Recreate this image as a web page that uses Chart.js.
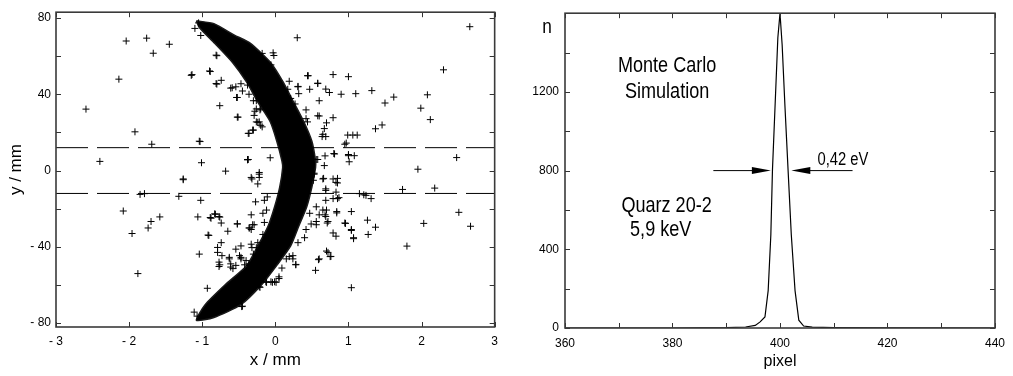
<!DOCTYPE html>
<html>
<head>
<meta charset="utf-8">
<script src="https://cdn.jsdelivr.net/npm/chart.js@4.4.0/dist/chart.umd.min.js"></script>
<style>
  body { margin: 0; background: #fff; }
  #left { position: absolute; left: 0; top: 0; width: 505px; height: 376px; }
  #right { position: absolute; left: 505px; top: 0; width: 508px; height: 376px; }
</style>
</head>
<body>
<div id="left"><canvas id="spotChart"></canvas></div>
<div id="right"><canvas id="peakChart"></canvas></div>
<script>
// ---- left panel: spot on the detector (x / mm, y / mm) ----
// dense band, outer edge top->bottom then inner edge bottom->top
const crescentOutline = [
  [-1.08, 78.5], [-0.84, 77.0], [-0.56, 71.0], [-0.34, 66.7], [-0.06, 56.4], [0.11, 46.2],
  [0.25, 35.9], [0.39, 25.6], [0.50, 15.4], [0.55, 5.1], [0.55, 1.5], [0.50, -8.7],
  [0.43, -19.0], [0.32, -29.2], [0.21, -39.5], [0.02, -49.7], [-0.19, -60.0], [-0.47, -70.3],
  [-0.84, -77.0], [-1.08, -78.5],
  [-0.96, -70.3], [-0.69, -60.0], [-0.39, -49.7], [-0.24, -39.5], [-0.10, -29.2], [-0.01, -19.0],
  [0.06, -8.7], [0.10, 1.5], [0.09, 5.1], [0.02, 15.4], [-0.07, 25.6], [-0.24, 35.9],
  [-0.39, 46.2], [-0.58, 56.4], [-0.83, 66.7], [-1.04, 75.0], [-1.08, 78.5]
];

const strayPoints = [
  [-2.59, 32.2], [-2.04, 67.9], [-2.14, 47.9], [-1.76, 69.4], [-1.67, 61.5], [-1.45, 66.2],
  [-1.92, 20.3], [-1.69, 13.8], [-1.04, 15.4], [-2.40, 4.8], [-1.01, 4.1], [-1.26, -4.4],
  [-0.68, -0.3], [-0.38, 5.6], [-1.15, 49.9], [-0.90, 52.2], [-0.80, 60.2], [-0.80, 45.3],
  [-0.74, 47.3], [-0.76, 34.0], [-0.52, 28.0], [-0.59, 43.4], [-0.53, 38.3], [-0.37, 19.5],
  [-0.30, 21.2], [-0.28, 31.1], [-0.26, 25.5], [-1.10, 74.5], [-1.02, 70.8], [-1.05, 77.4],
  [-0.33, -3.6],
  [2.66, 75.4], [0.30, 69.6], [2.30, 52.8], [0.45, 49.7], [0.79, 50.3], [1.00, 49.2],
  [0.47, 42.6], [0.58, 45.8], [0.69, 42.7], [0.74, 40.9], [0.90, 40.0], [1.10, 40.3],
  [1.32, 41.9], [1.50, 35.4], [1.62, 38.5], [2.08, 39.7], [1.99, 32.7], [2.12, 26.7],
  [1.37, 21.9], [1.46, 23.9], [0.60, 36.6], [0.42, 31.8], [0.58, 28.7], [0.79, 27.7],
  [0.70, 25.0], [0.67, 22.0], [0.64, 17.8], [0.99, 18.6], [1.12, 18.6], [0.95, 13.8],
  [1.00, 7.8], [1.08, 7.8], [1.01, 4.6], [0.80, 8.9], [0.68, 7.7], [0.67, 2.6],
  [0.56, 5.8], [0.53, -1.4], [0.52, -5.1], [0.79, -4.4], [0.85, -4.1], [0.66, -4.1],
  [2.48, 6.8], [1.95, 0.7], [1.74, -9.9], [2.18, -9.2], [-0.22, 60.5], [-0.03, 61.7],
  [-0.06, 55.4], [-0.06, 52.8], [-0.31, 21.2], [-0.24, 25.3], [-0.20, 23.7], [-0.21, 31.8],
  [-0.30, 36.6], [-0.26, 36.6], [-0.47, 45.5], [-0.36, 40.0], [-0.38, 5.8], [-0.32, -4.4],
  [-0.22, -1.0], [-0.22, -3.6], [-0.07, 6.7], [0.31, 44.1], [0.32, 40.3], [0.27, 34.9],
  [0.42, 27.2], [0.44, 25.5],
  [-2.08, -21.2], [-1.96, -33.0], [-1.74, -30.1], [-1.70, -26.7], [-1.58, -24.3], [-1.88, -54.0],
  [-1.85, -12.5], [-1.79, -12.1], [-1.32, -13.5], [-1.02, -15.6], [-1.06, -24.3], [-0.92, -33.8],
  [-1.04, -43.8], [-0.89, -24.6], [-0.83, -22.7], [-0.77, -24.1], [-0.74, -27.5], [-0.65, -31.8],
  [-0.52, -28.0], [-0.93, -61.7], [-0.46, -71.3], [-0.79, -42.9], [-0.74, -37.8], [-0.77, -48.0],
  [-0.77, -50.3], [-0.63, -45.5], [-0.61, -48.9], [-0.58, -51.4], [-0.54, -41.2], [-0.49, -44.6],
  [-0.47, -39.5], [-0.40, -47.2], [-0.36, -48.9], [-0.33, -23.2], [-0.29, -28.4], [-0.33, -30.9],
  [-1.11, -74.2], [-1.07, -76.3],
  [2.51, -21.9], [2.03, -27.7], [2.67, -29.2], [1.80, -39.6], [1.04, -21.5], [0.96, -27.7],
  [1.26, -26.0], [1.27, -33.5], [1.37, -29.7], [1.04, -31.4], [1.07, -35.7], [0.79, -32.7],
  [0.83, -34.4], [0.71, -27.5], [0.84, -22.2], [0.68, -23.2], [0.70, -20.7], [0.70, -42.2],
  [0.75, -45.1], [0.59, -46.7], [0.55, -52.3], [1.04, -61.4], [1.15, -12.1], [1.21, -12.7],
  [1.24, -13.0], [1.31, -14.7], [0.79, -14.7], [0.87, -14.2], [0.05, -56.6], [-0.01, -58.3],
  [-0.06, -58.3], [-0.13, -58.3], [-0.21, -61.2], [0.28, -49.2], [0.19, -45.1], [0.24, -46.3],
  [0.09, -51.1], [0.40, -35.2], [0.31, -37.8], [0.42, -30.9], [0.56, -28.4], [0.49, -28.0],
  [0.60, -23.2], [0.47, -22.4], [0.56, -19.0], [0.69, -9.6], [0.83, -11.3], [0.85, -6.5],
  [-0.45, -71.1], [-0.31, -28.4], [-0.36, -30.1], [-0.26, -40.4], [-0.33, -38.6], [-0.47, -46.3],
  [-0.18, 61.4], [-0.02, 60.3], [-0.05, 52.8], [0.19, 46.8], [0.17, 42.6], [0.31, 43.9],
  [0.21, 37.8], [0.44, 49.7], [0.58, 45.6], [0.60, 28.6], [0.65, 19.0], [0.69, 17.8],
  [1.06, 18.6], [0.49, 7.5], [0.58, 5.8], [0.81, 8.7], [1.00, 8.4], [0.97, 14.4],
  [-0.81, 60.5], [-0.89, 51.9], [-1.14, 50.3], [-0.81, 45.6], [-0.61, 43.2], [-0.54, 43.9],
  [-0.52, 38.3], [-0.45, 41.7], [-0.38, 44.8], [-0.51, 28.0], [-0.26, 32.3], [-0.20, 32.3],
  [-0.29, 28.9], [-0.22, 25.5], [-0.18, 22.9], [-0.36, 19.5], [-1.03, 15.2], [-0.37, 5.8],
  [-1.26, -4.8], [-0.88, -25.0], [-0.82, -22.9], [-0.76, -24.4], [-0.52, -27.9], [-0.91, -34.0],
  [-0.79, -40.3], [-0.73, -44.6], [-0.76, -49.4], [-0.63, -46.3], [-0.61, -50.6], [-0.54, -49.7],
  [-0.47, -45.5], [-0.32, -40.4], [-0.35, -30.1], [-0.27, -16.4], [-0.24, -7.0], [-0.22, -1.9],
  [-0.15, -15.6], [-0.11, -13.8], [-0.17, -22.4], [-0.12, -20.7], [-0.15, -27.2], [-0.17, -33.5],
  [-0.24, -37.8], [-0.30, -43.8], [-0.36, -49.7], [-0.42, -49.4], [0.53, -1.9], [0.65, -4.4],
  [0.69, -10.4], [0.83, -6.2], [0.85, -14.7], [0.65, -20.7], [0.69, -24.1], [0.56, -26.7],
  [0.24, -44.6], [0.28, -49.4], [0.15, -46.3], [0.05, -55.7], [0.01, -58.6], [-0.12, -58.6],
  [-0.04, -58.6], [0.60, -46.3], [0.72, -42.9], [0.76, -45.0], [0.95, -27.5], [1.04, -30.9],
  [1.07, -35.2], [0.84, -21.5], [0.72, -26.7], [0.69, -15.6], [-0.22, -60.9]
];

const cutLevels = [12, -12];           // dashed lines, mm
const spotXLabels = [-3, -2, -1, 0, 1, 2, 3];
const spotYLabels = [-80, -40, 0, 40, 80];
const spotXMarks = [-3, -2, -1, 0, 1, 2, 3];
const spotYMarks = [-80, -60, -40, -20, 0, 20, 40, 60, 80];

// ---- right panel: simulated line profile ----
const pixelPos = [360, 380, 390, 393.6, 395.4, 396.3, 397.2, 397.8, 398.3, 398.6, 399.1, 399.6,
  400.0, 400.4, 400.9, 401.5, 402.1, 402.8, 403.5, 404.4, 406, 410, 420, 440];
const counts = [0, 0, 2, 5, 13, 31, 56, 190, 475, 805, 1140, 1475,
  1600, 1440, 1140, 805, 475, 190, 40, 10, 4, 2, 1, 0];
const peakXLabels = [360, 380, 400, 420, 440];
const peakYLabels = [0, 400, 800, 1200];
const peakXMarks = [360, 370, 380, 390, 400, 410, 420, 430, 440];
const peakYMarks = [0, 200, 400, 600, 800, 1000, 1200, 1400, 1600];

const notes = [
  { text: 'Monte Carlo', x: 379.0, y: 1330, size: 22 },
  { text: 'Simulation', x: 379.0, y: 1200, size: 22 },
  { text: 'Quarz 20-2', x: 378.9, y: 620, size: 22 },
  { text: '5,9 keV', x: 377.8, y: 500, size: 22 },
  { text: '0,42 eV', x: 411.7, y: 855, size: 18 }
];
const fwhmArrows = [
  { from: 387.6, to: 398.3, y: 800 },
  { from: 413.5, to: 402.1, y: 800 }
];

const FAMILY = "'Liberation Sans', Arial, sans-serif";
const NARROW = 0.82;   // the original lettering is a condensed face

const minusFmt = v => (v < 0 ? '- ' + Math.abs(v) : String(v));

// box around the plot plus small inward ticks on all four sides
const frameTicks = {
  id: 'frameTicks',
  afterDatasetsDraw(chart, args, opts) {
    const { ctx, chartArea: a, scales: { x, y } } = chart;
    ctx.save();
    ctx.strokeStyle = '#333';
    ctx.lineWidth = 1;
    ctx.beginPath();
    opts.xMarks.forEach(v => {
      const px = Math.round(x.getPixelForValue(v)) + 0.5;
      ctx.moveTo(px, a.bottom); ctx.lineTo(px, a.bottom - 5);
      ctx.moveTo(px, a.top); ctx.lineTo(px, a.top + 5);
    });
    opts.yMarks.forEach(v => {
      const py = Math.round(y.getPixelForValue(v)) + 0.5;
      ctx.moveTo(a.left, py); ctx.lineTo(a.left + 5, py);
      ctx.moveTo(a.right, py); ctx.lineTo(a.right - 5, py);
    });
    ctx.stroke();
    ctx.lineWidth = 1.6;
    ctx.strokeStyle = '#3a3a3a';
    ctx.strokeRect(a.left, a.top, a.right - a.left, a.bottom - a.top);
    ctx.restore();
  }
};

function narrowText(ctx, text, px, py, size) {
  ctx.save();
  ctx.font = size + 'px ' + FAMILY;
  ctx.translate(px, py);
  ctx.scale(NARROW, 1);
  ctx.fillText(text, 0, 0);
  ctx.restore();
}

const peakNotes = {
  id: 'peakNotes',
  afterDraw(chart) {
    const { ctx, chartArea: a, scales: { x, y } } = chart;
    ctx.save();
    ctx.fillStyle = '#000';
    ctx.textAlign = 'center';
    ctx.textBaseline = 'middle';
    notes.forEach(n => narrowText(ctx, n.text, x.getPixelForValue(n.x), y.getPixelForValue(n.y), n.size));
    narrowText(ctx, 'n', a.left - 18, a.top + 14, 21);
    ctx.strokeStyle = '#000';
    ctx.lineWidth = 1;
    fwhmArrows.forEach(ar => {
      const x0 = x.getPixelForValue(ar.from);
      const x1 = x.getPixelForValue(ar.to);
      const py = y.getPixelForValue(ar.y);
      const dir = Math.sign(x1 - x0);
      ctx.beginPath();
      ctx.moveTo(x0, py); ctx.lineTo(x1 - dir * 10, py);
      ctx.stroke();
      ctx.beginPath();
      ctx.moveTo(x1, py);
      ctx.lineTo(x1 - dir * 19, py - 3.5);
      ctx.lineTo(x1 - dir * 19, py + 3.5);
      ctx.closePath();
      ctx.fill();
    });
    ctx.restore();
  }
};

const tickFont = { family: FAMILY, size: 12 };
const titleFont = { family: FAMILY, size: 17 };

new Chart(document.getElementById('spotChart'), {
  type: 'scatter',
  data: {
    datasets: [
      {
        data: crescentOutline, showLine: true, fill: 'shape', tension: 0.2,
        backgroundColor: '#000', borderColor: '#1a1a1a', borderWidth: 1.5, pointRadius: 0, order: 3
      },
      {
        data: strayPoints, pointStyle: 'cross', pointRadius: 3.5,
        borderColor: '#000', borderWidth: 1, order: 2
      },
      ...cutLevels.map(lv => ({
        data: [[-3, lv], [3, lv]], showLine: true, borderDash: [32, 9],
        borderColor: '#000', borderWidth: 1, pointRadius: 0, order: 1
      }))
    ]
  },
  options: {
    responsive: true,
    maintainAspectRatio: false,
    animation: false,
    layout: { padding: { top: 7, right: 10, left: 0, bottom: 0 } },
    plugins: {
      legend: { display: false },
      tooltip: { enabled: false },
      frameTicks: { xMarks: spotXMarks, yMarks: spotYMarks }
    },
    scales: {
      x: {
        type: 'linear', min: -3, max: 3,
        afterBuildTicks: s => { s.ticks = spotXLabels.map(v => ({ value: v })); },
        afterFit: s => { s.height = 49; },
        grid: { display: false, drawTicks: false }, border: { display: false },
        ticks: { padding: 7, color: '#000', font: tickFont, maxRotation: 0, callback: minusFmt },
        title: { display: true, text: 'x / mm', color: '#000', font: titleFont, padding: { top: 0, bottom: 5 } }
      },
      y: {
        type: 'linear', min: -82, max: 83,
        afterBuildTicks: s => { s.ticks = spotYLabels.map(v => ({ value: v })); },
        afterFit: s => { s.width = 56; },
        grid: { display: false, drawTicks: false }, border: { display: false },
        ticks: { padding: 5, color: '#000', font: tickFont, callback: minusFmt },
        title: { display: true, text: 'y / mm', color: '#000', font: titleFont, padding: { top: 6, bottom: 0 } }
      }
    }
  },
  plugins: [frameTicks]
});

new Chart(document.getElementById('peakChart'), {
  type: 'scatter',
  data: {
    datasets: [{
      data: pixelPos.map((p, i) => ({ x: p, y: counts[i] })),
      showLine: true, borderColor: '#000', borderWidth: 1.2, pointRadius: 0, tension: 0
    }]
  },
  options: {
    responsive: true,
    maintainAspectRatio: false,
    animation: false,
    layout: { padding: { top: 7, right: 7, left: 0, bottom: 0 } },
    plugins: {
      legend: { display: false },
      tooltip: { enabled: false },
      frameTicks: { xMarks: peakXMarks, yMarks: peakYMarks }
    },
    scales: {
      x: {
        type: 'linear', min: 360, max: 440,
        afterBuildTicks: s => { s.ticks = peakXLabels.map(v => ({ value: v })); },
        afterFit: s => { s.height = 48; },
        grid: { display: false, drawTicks: false }, border: { display: false },
        ticks: { padding: 8, color: '#000', font: tickFont, maxRotation: 0, callback: v => String(v) },
        title: { display: true, text: 'pixel', color: '#000', font: { family: FAMILY, size: 16 }, padding: { top: 0, bottom: 5 } }
      },
      y: {
        type: 'linear', min: 0, max: 1600,
        afterBuildTicks: s => { s.ticks = peakYLabels.map(v => ({ value: v })); },
        afterFit: s => { s.width = 60; },
        grid: { display: false, drawTicks: false }, border: { display: false },
        ticks: { padding: 6, color: '#000', font: tickFont, callback: v => String(v) }
      }
    }
  },
  plugins: [frameTicks, peakNotes]
});
</script>
</body>
</html>
